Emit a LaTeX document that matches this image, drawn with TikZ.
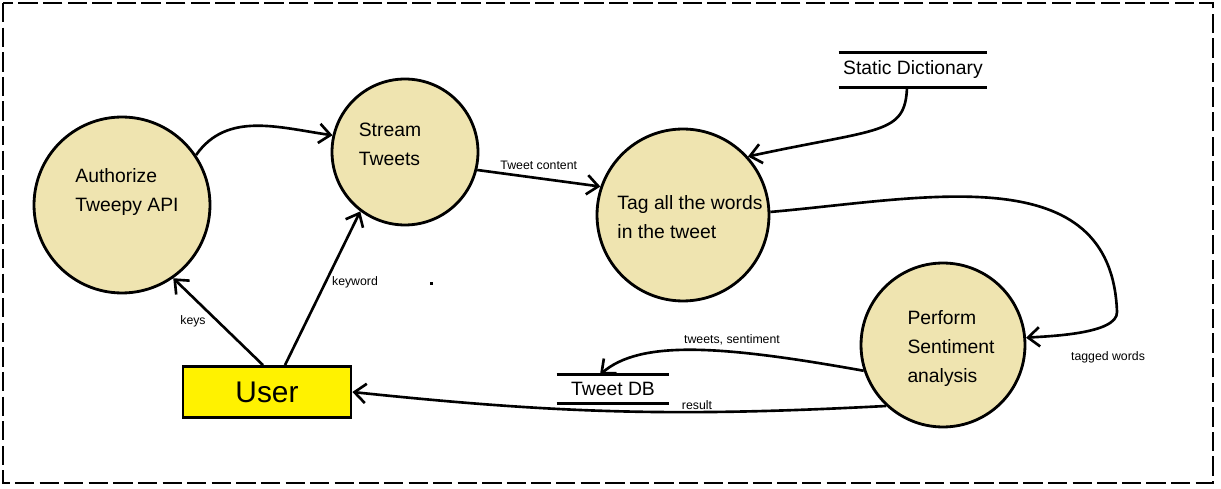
\documentclass[tikz,border=0pt]{standalone}
\usepackage{fontspec}
\setmainfont{Liberation Sans}
\usepackage{tikz}
\usetikzlibrary{arrows.meta,positioning,shapes.geometric,fit}
\usepackage{xcolor}
\definecolor{procfill}{RGB}{239,228,176}
\definecolor{userfill}{RGB}{255,242,0}

\begin{document}
\begin{tikzpicture}[
            x=0.02cm, y=-0.02cm,
            proc/.style={circle, draw, fill=procfill, line width=1.6pt, inner sep=0pt},
            proctext/.style={align=left, inner sep=0pt, font=\fontsize{11}{16.5}\selectfont},
            userbox/.style={rectangle, draw, fill=userfill, line width=1.6pt, minimum width=3.36cm, minimum height=1.02cm, font=\fontsize{17}{20}\selectfont},
            store/.style={rectangle, inner sep=0pt, minimum height=0.7cm, font=\fontsize{11}{13}\selectfont},
            storeline/.style={line width=1.6pt},
            flowlabel/.style={font=\fontsize{7}{8}\selectfont, inner sep=2pt},
            arrow/.style={-{Straight Barb[length=6.5pt,width=11pt]}, line width=1.5pt}
        ]
            \useasboundingbox (0,0) rectangle (1221,489);
            % --- Rand ---
            \draw[line width=0.8pt, dash pattern=on 11pt off 3pt] (3,3) rectangle (1213,483);

            % --- PROZESSE ---
            \node[proc, minimum size=3.52cm] (authAPI) at (122,205) {};
            \node[proctext] (authText) at (127,192) {Authorize\\Tweepy API};
            \node[proc, minimum size=2.92cm] (streamTweets) at (405,152) {};
            \node[proctext] (streamText) at (390,144) {Stream\\Tweets};
            \node[proc, minimum size=3.44cm] (tagWords) at (683,215) {};
            \node[proctext] (tagText) at (690,217) {Tag all the words\\in the tweet};
            \node[proc, minimum size=3.28cm] (performSA) at (943,345) {};
            \node[proctext] (performText) at (951,349) {Perform\\Sentiment\\analysis};

            % --- USER ---
            \node[userbox] (userBox) at (267,392) {User};

            % --- DATENSPEICHER ---
            \node[store, minimum width=2.96cm] (staticDict) at (913,70) {Static Dictionary};
            \draw[storeline] (staticDict.north west) -- (staticDict.north east);
            \draw[storeline] (staticDict.south west) -- (staticDict.south east);

            \node[store, minimum width=2.24cm, minimum height=0.56cm] (tweetDB) at (613,389) {Tweet DB};
            \draw[storeline] (tweetDB.north west) -- (tweetDB.north east);
            \draw[storeline] (tweetDB.south west) -- (tweetDB.south east);

            % --- VERBINDUNGEN ---
            \draw[arrow] (authAPI.34) to[out=55,in=172] (streamTweets.167);
            \draw[arrow] (streamTweets.-14) -- (tagWords.161)
                node[flowlabel, midway, above=2pt] (lblContent) {Tweet content};
            \draw[arrow] ([xshift=-0.12cm]staticDict.south) .. controls (905,135) and (880,128) .. (tagWords.42);

            \coordinate (tagBend) at (1117,312);
            \draw[arrow] (tagWords.2) to[out=5,in=92,looseness=1.1] (tagBend) to[out=-88,in=4,looseness=0.6] (performSA.5);
            \node[flowlabel] (lblTagged) at (1108,357) {tagged words};

            \draw[arrow] (performSA.-162) .. controls (720,345) and (640,340) .. ([xshift=-0.26cm]tweetDB.north);
            \node[flowlabel] (lblTweets) at (732,340) {tweets, sentiment};

            \draw[arrow] (performSA.-133) to[out=183,in=-6] (userBox.east);
            \node[flowlabel] (lblResult) at (697,405) {result};

            \draw[arrow] ([xshift=-0.08cm]userBox.north) -- (authAPI.-55);
            \node[flowlabel] (lblKeys) at (193,321) {keys};
            \draw[arrow] ([xshift=0.36cm]userBox.north) -- (streamTweets.-127);
            \node[flowlabel] (lblKeyword) at (355,282) {keyword};

            \fill (430,282) rectangle (433,285);
        \end{tikzpicture}
\end{document}
